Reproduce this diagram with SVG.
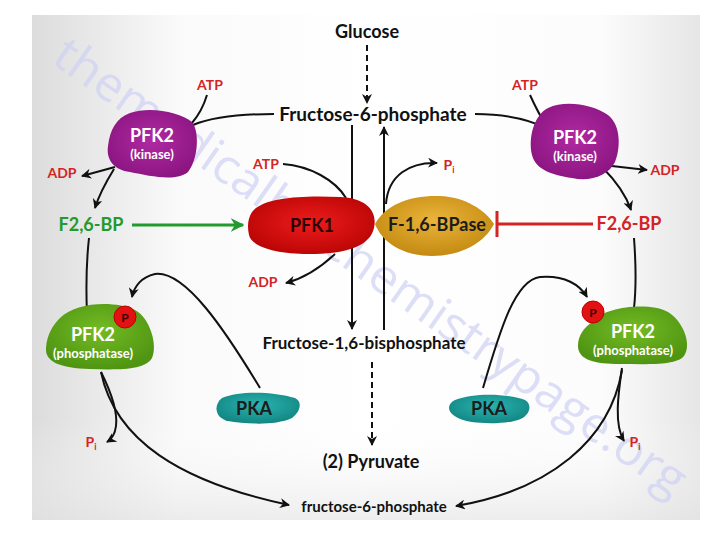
<svg xmlns="http://www.w3.org/2000/svg" width="720" height="540" viewBox="0 0 720 540">
<defs>
  <linearGradient id="bgx" x1="0" y1="0" x2="1" y2="0">
    <stop offset="0" stop-color="#dcdcdc"/>
    <stop offset="0.22" stop-color="#fafafa"/>
    <stop offset="0.5" stop-color="#ffffff"/>
    <stop offset="0.85" stop-color="#fcfcfc"/>
    <stop offset="1" stop-color="#e6e6e6"/>
  </linearGradient>
  <linearGradient id="bgy" x1="0" y1="0" x2="0" y2="1">
    <stop offset="0" stop-color="#ffffff" stop-opacity="0"/>
    <stop offset="0.8" stop-color="#ffffff" stop-opacity="0"/>
    <stop offset="1" stop-color="#e2e2e2" stop-opacity="0.6"/>
  </linearGradient>
  <radialGradient id="gPurple" cx="50%" cy="45%" r="60%">
    <stop offset="0" stop-color="#b02aa2"/>
    <stop offset="1" stop-color="#8a1480"/>
  </radialGradient>
  <radialGradient id="gGreen" cx="50%" cy="40%" r="60%">
    <stop offset="0" stop-color="#74bb25"/>
    <stop offset="1" stop-color="#4f9512"/>
  </radialGradient>
  <radialGradient id="gRed" cx="50%" cy="45%" r="60%">
    <stop offset="0" stop-color="#ee1c1c"/>
    <stop offset="1" stop-color="#b80404"/>
  </radialGradient>
  <radialGradient id="gGold" cx="50%" cy="40%" r="60%">
    <stop offset="0" stop-color="#eab43a"/>
    <stop offset="1" stop-color="#c48a12"/>
  </radialGradient>
  <radialGradient id="gTeal" cx="50%" cy="40%" r="60%">
    <stop offset="0" stop-color="#2bb3b0"/>
    <stop offset="1" stop-color="#128784"/>
  </radialGradient>
  <marker id="ah" viewBox="0 0 10 10" refX="9" refY="5" markerWidth="5" markerHeight="5" orient="auto" markerUnits="strokeWidth">
    <path d="M0,0 L10,5 L0,10 L3,5 Z" fill="#111"/>
  </marker>
  <marker id="ahg" viewBox="0 0 10 10" refX="9" refY="5" markerWidth="4.5" markerHeight="4.5" orient="auto" markerUnits="strokeWidth">
    <path d="M0,0 L10,5 L0,10 L3,5 Z" fill="#229a2e"/>
  </marker>
  <style>
    text { font-family: Lato, "Open Sans", "Liberation Sans", sans-serif; font-weight: bold; text-anchor: middle; }
    .met { font-size: 18px; fill: #111; }
    .small { font-size: 15px; fill: #111; }
    .cof { font-size: 14px; fill: #d42323; }
    .enz { font-size: 18px; fill: #fff; }
    .sub { font-size: 13px; fill: #fff; }
    .dark { font-size: 18px; fill: #1c1c1c; }
    .line { fill: none; stroke: #111; stroke-width: 2; }
    .dash { fill: none; stroke: #111; stroke-width: 2; stroke-dasharray: 6,4; }
    .pc { fill: #e31212; stroke: #b00; stroke-width: 1; }
    .wm { font-family: "Open Sans", "Liberation Sans", sans-serif; font-weight: normal; font-size: 48px; fill: #cfd1f4; text-anchor: start; opacity: 0.7; }
  </style>
</defs>

<rect x="0" y="0" width="720" height="540" fill="#ffffff"/>
<rect x="32" y="15" width="668" height="505" fill="url(#bgx)"/>
<rect x="32" y="15" width="668" height="505" fill="url(#bgy)"/>

<text class="wm" transform="translate(50,62) rotate(35)" textLength="760" lengthAdjust="spacingAndGlyphs">themedicalbiochemistrypage.org</text>

<g id="connectors">
  <path class="dash" d="M367,45 L367,103" marker-end="url(#ah)"/>
  <path class="line" d="M274,114 C240,114 210,118 193,125"/>
  <path class="line" d="M207,95 C203,108 198,116 192,123"/>
  <path class="line" d="M115,167 L82,176" marker-end="url(#ah)"/>
  <path class="line" d="M114,169 C106,182 99,195 95,208" marker-end="url(#ah)"/>
  <path d="M132,225 L243,225" fill="none" stroke="#229a2e" stroke-width="3" marker-end="url(#ahg)"/>
  <path class="line" d="M89,238 C86,265 86,290 87,314"/>
  <path class="line" d="M101,372 C110,390 118,410 116,426 C115,434 112,439 107,442" marker-end="url(#ah)"/>
  <path class="line" d="M101,372 C115,440 180,482 289,505" marker-end="url(#ah)"/>
  <path class="line" d="M260,388 C225,330 185,270 155,274 C141,277 134,287 132,297" marker-end="url(#ah)"/>
  <path class="line" d="M283,164 C310,166 335,180 346,198"/>
  <path class="line" d="M335,254 C320,268 305,278 286,283" marker-end="url(#ah)"/>
  <path class="line" d="M352,125 L352,329" marker-end="url(#ah)"/>
  <path class="line" d="M384,330 L384,127" marker-end="url(#ah)"/>
  <path class="line" d="M386,204 C388,175 410,162 437,163" marker-end="url(#ah)"/>
  <path d="M593,224 L498,224 M497,211 L497,237" fill="none" stroke="#d42323" stroke-width="3"/>
  <path class="line" d="M475,114 C505,114 530,120 546,128"/>
  <path class="line" d="M530,95 C535,106 540,116 546,125"/>
  <path class="line" d="M603,165 L647,170" marker-end="url(#ah)"/>
  <path class="line" d="M602,167 C615,180 626,195 631,210" marker-end="url(#ah)"/>
  <path class="line" d="M634,238 C636,265 636,290 634,308"/>
  <path class="line" d="M483,388 C500,330 515,280 540,277 C565,275 580,285 587,297" marker-end="url(#ah)"/>
  <path class="line" d="M622,368 C618,395 614,425 624,441" marker-end="url(#ah)"/>
  <path class="line" d="M622,370 C610,440 550,490 456,506" marker-end="url(#ah)"/>
  <path class="dash" d="M372,362 L372,445" marker-end="url(#ah)"/>
</g>

<g id="glucose"><text class="met" x="367" y="38">Glucose</text></g>
<g id="f6p"><text class="met" x="373" y="121" style="font-size:19px">Fructose-6-phosphate</text></g>
<g id="f16bp"><text class="met" x="364" y="349" style="font-size:17px">Fructose-1,6-bisphosphate</text></g>
<g id="pyruvate"><text class="met" x="371" y="468">(2) Pyruvate</text></g>
<g id="f6p-bottom"><text class="small" x="374" y="512">fructose-6-phosphate</text></g>

<g id="pfk2-kinase-left">
  <path d="M130,113 C150,106 180,112 192,122 C200,132 198,160 188,172 C176,182 150,176 130,172 C114,170 106,160 108,146 C110,130 116,118 130,113 Z" fill="url(#gPurple)"/>
  <text class="enz" x="152" y="142">PFK2</text>
  <text class="sub" x="152" y="159">(kinase)</text>
</g>
<g id="pfk2-kinase-right">
  <path d="M548,108 C565,100 592,104 608,115 C622,126 620,150 615,162 C608,176 590,182 572,178 C552,175 536,170 532,155 C528,138 534,115 548,108 Z" fill="url(#gPurple)"/>
  <text class="enz" x="575" y="144">PFK2</text>
  <text class="sub" x="575" y="161">(kinase)</text>
</g>

<g id="atp-left-k"><text class="cof" x="210" y="90">ATP</text></g>
<g id="adp-left-k"><text class="cof" x="62" y="178">ADP</text></g>
<g id="atp-right-k"><text class="cof" x="525" y="90">ATP</text></g>
<g id="adp-right-k"><text class="cof" x="665" y="175">ADP</text></g>
<g id="atp-pfk1"><text class="cof" x="266" y="169">ATP</text></g>
<g id="adp-pfk1"><text class="cof" x="263" y="287">ADP</text></g>
<g id="pi-bpase"><text class="cof" x="449" y="170">P<tspan font-size="9" dy="3">i</tspan></text></g>
<g id="pi-left"><text class="cof" x="91" y="447">P<tspan font-size="9" dy="3">i</tspan></text></g>
<g id="pi-right"><text class="cof" x="635" y="447">P<tspan font-size="9" dy="3">i</tspan></text></g>

<g id="f26bp-left"><text x="91" y="231" style="font-size:18px;fill:#229a2e">F2,6-BP</text></g>
<g id="f26bp-right"><text x="629" y="230" style="font-size:18px;fill:#d42323">F2,6-BP</text></g>

<g id="pfk1">
  <path d="M252,212 C262,198 300,195 340,197 C365,198 378,210 374,228 C370,245 350,253 315,254 C280,255 252,248 249,235 C247,226 248,218 252,212 Z" fill="url(#gRed)"/>
  <text class="dark" x="312" y="232" style="fill:#2a0404">PFK1</text>
</g>
<g id="f16bpase">
  <path d="M375,224 C385,205 410,195 440,196 C465,197 485,210 494,224 C485,242 462,256 432,256 C402,256 382,242 375,224 Z" fill="url(#gGold)"/>
  <text class="dark" x="437" y="231">F-1,6-BPase</text>
</g>

<g id="pfk2-phosphatase-left">
  <path d="M60,318 C75,302 115,300 135,310 C150,318 158,345 152,358 C145,370 120,370 90,369 C60,368 45,362 46,348 C47,335 52,326 60,318 Z" fill="url(#gGreen)"/>
  <text class="enz" x="93" y="341">PFK2</text>
  <text class="sub" x="93" y="358">(phosphatase)</text>
  <circle class="pc" cx="125" cy="317" r="11"/>
  <text x="125" y="322" style="font-size:12px;fill:#300">P</text>
</g>
<g id="pfk2-phosphatase-right">
  <path d="M592,322 C605,306 650,302 668,312 C684,322 692,345 684,356 C676,366 645,364 620,364 C595,364 578,360 578,346 C578,335 584,328 592,322 Z" fill="url(#gGreen)"/>
  <text class="enz" x="633" y="338">PFK2</text>
  <text class="sub" x="633" y="355">(phosphatase)</text>
  <circle class="pc" cx="593" cy="312" r="11"/>
  <text x="593" y="317" style="font-size:12px;fill:#300">P</text>
</g>

<g id="pka-left">
  <path d="M222,398 C240,390 275,392 295,398 C303,402 300,412 292,418 C275,426 245,424 228,421 C215,418 213,405 222,398 Z" fill="url(#gTeal)"/>
  <text class="dark" x="254" y="415">PKA</text>
</g>
<g id="pka-right">
  <path d="M455,400 C475,392 510,394 525,400 C533,405 530,416 518,420 C500,425 470,424 458,418 C446,412 447,404 455,400 Z" fill="url(#gTeal)"/>
  <text class="dark" x="489" y="415">PKA</text>
</g>
</svg>
